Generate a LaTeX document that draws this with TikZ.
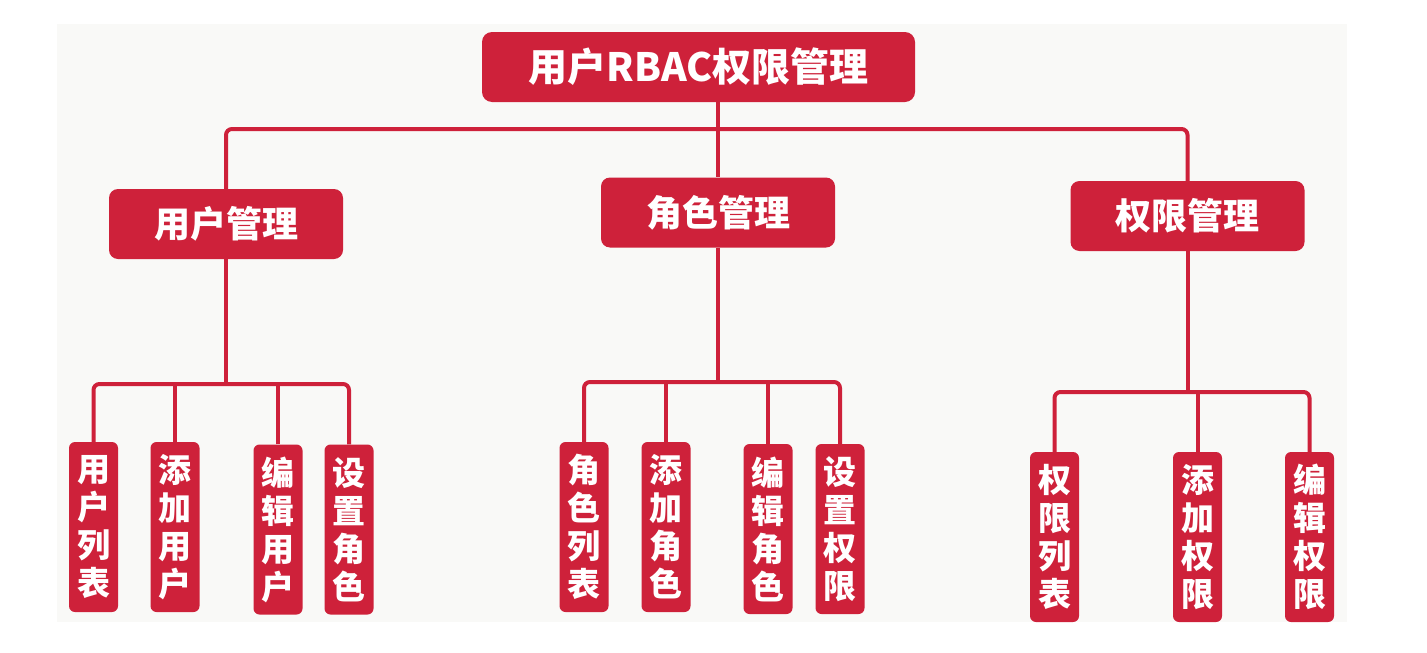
\documentclass[tikz,border=0pt]{standalone}
\usepackage{fontspec}
\newfontfamily\cjk{Noto Sans CJK SC}
\definecolor{rbacred}{RGB}{206,33,58}
\definecolor{paper}{RGB}{249,249,247}
\tikzstyle{box}=[fill=rbacred,text=white,inner sep=0pt,align=center]
\tikzstyle{headbox}=[box,rounded corners=10pt,minimum width=433pt,minimum height=70pt,font=\cjk\bfseries\fontsize{39}{42}\selectfont]
\tikzstyle{groupbox}=[box,rounded corners=9pt,minimum width=234pt,minimum height=70pt,font=\cjk\bfseries\fontsize{36}{38}\selectfont]
\tikzstyle{leafbox}=[box,rounded corners=6pt,text width=49pt,minimum height=170pt,font=\cjk\bfseries\fontsize{33}{38}\selectfont]
\tikzstyle{link}=[draw=rbacred,line width=4pt,rounded corners=6pt]

\begin{document}
\begin{tikzpicture}[x=1pt,y=-1pt]
  \useasboundingbox (0,0) rectangle (1427,653);
  \fill[paper] (57,24) rectangle (1347,622);
  \coordinate (top) at (0,129);
  \coordinate (ubar) at (0,384);
  \coordinate (rbar) at (0,382);
  \coordinate (pbar) at (0,392);

  \node[headbox] (root) at (698.5,67) {用户RBAC权限管理};
  \node[groupbox] (umgr) at (226,224) {用户管理};
  \node[groupbox] (rmgr) at (718,212.5) {角色管理};
  \node[groupbox] (pmgr) at (1187.5,216) {权限管理};

  \node[leafbox] (u1) at (93.5,527) {用\\户\\列\\表};
  \node[leafbox] (u2) at (175,527) {添\\加\\用\\户};
  \node[leafbox] (u3) at (278,529.5) {编\\辑\\用\\户};
  \node[leafbox] (u4) at (349,529.5) {设\\置\\角\\色};
  \node[leafbox] (r1) at (584,527) {角\\色\\列\\表};
  \node[leafbox] (r2) at (666,527) {添\\加\\角\\色};
  \node[leafbox] (r3) at (768,529) {编\\辑\\角\\色};
  \node[leafbox] (r4) at (840,529) {设\\置\\权\\限};
  \node[leafbox] (p1) at (1054.5,537) {权\\限\\列\\表};
  \node[leafbox] (p2) at (1197.5,537) {添\\加\\权\\限};
  \node[leafbox] (p3) at (1309.5,537) {编\\辑\\权\\限};

  \draw[link] (umgr.north) |- (pmgr.north |- top) -- (pmgr.north);
  \draw[link] (root.south -| rmgr.north) -- (rmgr.north);

  \draw[link] (u1.north) |- (u4.north |- ubar) -- (u4.north);
  \draw[link] (umgr.south) -- (umgr.south |- ubar);
  \foreach \n in {u2,u3}
    \draw[link] (\n.north) -- (\n.north |- ubar);

  \draw[link] (r1.north) |- (r4.north |- rbar) -- (r4.north);
  \draw[link] (rmgr.south) -- (rmgr.south |- rbar);
  \foreach \n in {r2,r3}
    \draw[link] (\n.north) -- (\n.north |- rbar);

  \draw[link] (p1.north) |- (p3.north |- pbar) -- (p3.north);
  \draw[link] (pmgr.south) -- (pmgr.south |- pbar);
  \draw[link] (p2.north) -- (p2.north |- pbar);
\end{tikzpicture}
\end{document}
